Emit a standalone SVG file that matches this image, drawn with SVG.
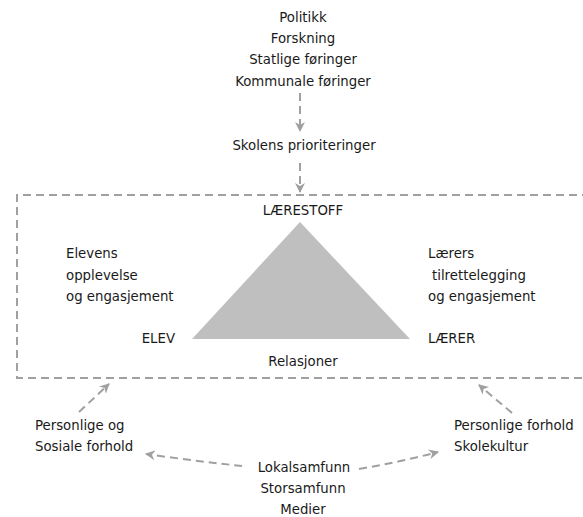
<svg xmlns="http://www.w3.org/2000/svg" width="583" height="517" viewBox="0 0 583 517">
<style>
text{font-family:"DejaVu Sans","Liberation Sans",Arial,sans-serif;font-size:13.3px;fill:#1a1a1a}
.c{text-anchor:middle}
.e{text-anchor:end}
.d{fill:none;stroke:#a0a0a0;stroke-width:2;stroke-dasharray:8 5}
</style>
<defs>
<marker id="ah" viewBox="0 0 10 10" refX="9" refY="5" markerWidth="5" markerHeight="5" orient="auto" markerUnits="strokeWidth">
<path d="M0,0 L10,5 L0,10 L3,5 Z" fill="#a0a0a0"/>
</marker>
</defs>
<rect width="583" height="517" fill="#fff"/>
<g id="frame"><path class="d" d="M590,195 H17 V378 H590"/></g>
<g id="triangle"><polygon points="300,222 192,339 410,339" fill="#bfbfbf"/></g>
<g id="sources">
<text class="c" x="303" y="22">Politikk</text>
<text class="c" x="303" y="43">Forskning</text>
<text class="c" x="303" y="64">Statlige føringer</text>
<text class="c" x="303" y="86">Kommunale føringer</text>
</g>
<g id="school"><text class="c" x="304" y="150">Skolens prioriteringer</text></g>
<g id="laerestoff"><text class="c" x="303" y="215">LÆRESTOFF</text></g>
<g id="elev-text">
<text x="66" y="258">Elevens</text>
<text x="66" y="280">opplevelse</text>
<text x="66" y="301">og engasjement</text>
</g>
<g id="elev"><text class="e" x="175" y="343">ELEV</text></g>
<g id="laerer-text">
<text x="428" y="258">Lærers</text>
<text x="432" y="280">tilrettelegging</text>
<text x="428" y="301">og engasjement</text>
</g>
<g id="laerer"><text x="428" y="343">LÆRER</text></g>
<g id="relasjoner"><text class="c" x="303" y="366">Relasjoner</text></g>
<g id="personlige-sosiale">
<text x="35" y="430">Personlige og</text>
<text x="35" y="451">Sosiale forhold</text>
</g>
<g id="personlige-skole">
<text x="454" y="430">Personlige forhold</text>
<text x="454" y="451">Skolekultur</text>
</g>
<g id="samfunn">
<text class="c" x="304" y="472">Lokalsamfunn</text>
<text class="c" x="303" y="493">Storsamfunn</text>
<text class="c" x="303" y="514">Medier</text>
</g>
<g id="connectors">
<path class="d" d="M300,93 V131" marker-end="url(#ah)"/>
<path class="d" d="M300,163 V192" marker-end="url(#ah)"/>
<path class="d" d="M79,412 L109,384" marker-end="url(#ah)"/>
<path class="d" d="M512,413 L479,385" marker-end="url(#ah)"/>
<path class="d" d="M242,466 Q195,461 146,454" marker-end="url(#ah)"/>
<path class="d" d="M359,469 Q400,462 438,452" marker-end="url(#ah)"/>
</g>
</svg>
